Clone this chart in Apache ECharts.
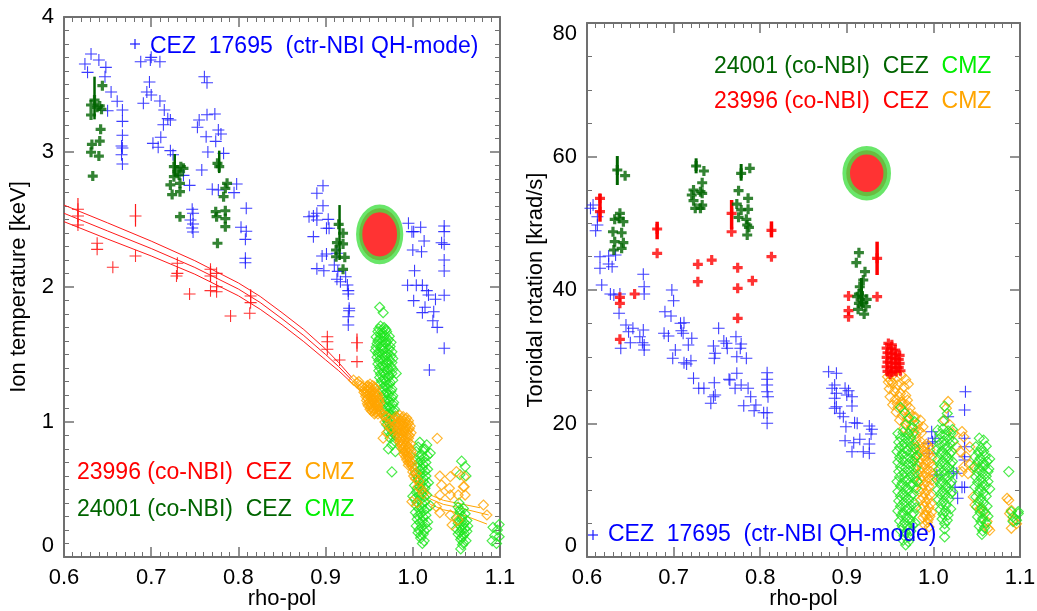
<!DOCTYPE html>
<html><head><meta charset="utf-8">
<script src="https://cdn.jsdelivr.net/npm/echarts@6/dist/echarts.min.js"></script>
<style>html,body{margin:0;padding:0;background:#fff}#c{width:1037px;height:611px}</style>
</head><body><div id="c"></div>
<script>
// ---------- tick labels ----------
const xTickLabels = ['0.6','0.7','0.8','0.9','1.0','1.1'];
const yTickLabelsT = ['0','1','2','3','4'];
const yTickLabelsV = ['0','20','40','60','80'];

// ---------- LEFT: ion temperature [keV] vs rho-pol ----------
const blueCEZ_T = [[0.631,3.726],[0.624,3.652],[0.640,3.681],[0.627,3.590],[0.648,3.627],[0.647,3.558],[0.688,3.669],[0.699,3.681],[0.700,3.701],[0.710,3.669],[0.698,3.519],[0.695,3.444],[0.700,3.422],[0.691,3.361],[0.710,3.378],[0.715,3.311],[0.719,3.247],[0.722,3.237],[0.714,3.202],[0.711,3.109],[0.702,3.064],[0.708,3.035],[0.722,3.010],[0.725,2.980],[0.654,3.444],[0.661,3.376],[0.650,3.306],[0.667,3.311],[0.667,3.227],[0.667,3.124],[0.666,3.044],[0.667,3.030],[0.666,2.980],[0.667,2.911],[0.761,3.558],[0.764,3.513],[0.755,3.237],[0.753,3.183],[0.764,3.276],[0.773,3.281],[0.777,3.163],[0.780,3.133],[0.763,3.113],[0.774,3.079],[0.765,3.000],[0.783,2.990],[0.758,2.867],[0.737,2.827],[0.744,2.753],[0.770,2.724],[0.777,2.719],[0.798,2.763],[0.795,2.699],[0.747,2.576],[0.748,2.546],[0.745,2.496],[0.748,2.467],[0.747,2.437],[0.748,2.407],[0.809,2.583],[0.803,2.442],[0.809,2.413],[0.808,2.353],[0.808,2.213],[0.808,2.180],[0.886,2.373],
[0.897,2.750],[0.890,2.694],[0.897,2.602],[0.881,2.521],[0.886,2.526],[0.890,2.546],[0.890,2.496],[0.901,2.435],[0.904,2.435],[0.903,2.501],[0.896,2.230],[0.901,2.244],[0.913,2.250],[0.890,2.136],[0.898,2.121],[0.910,2.163],[0.914,2.116],[0.913,2.057],[0.917,2.039],[0.923,2.076],[0.925,2.015],[0.926,1.973],[0.926,1.948],[0.927,1.842],[0.927,1.824],[0.926,1.780],[0.926,1.719],
[0.995,2.472],[0.999,2.410],[1.001,2.410],[1.009,2.442],[1.013,2.341],[1.000,2.274],[1.010,2.261],[1.002,2.121],[0.994,2.013],[1.004,2.013],[1.011,2.013],[1.016,1.973],[1.018,1.941],[1.026,1.909],[1.001,1.899],[1.036,1.939],[1.014,1.850],[1.011,1.810],[1.024,1.817],[1.023,1.750],[1.028,1.701],[1.036,1.546],[1.019,1.385],[1.036,2.452],[1.036,2.410],[1.033,2.328],[1.036,2.316],[1.036,2.200],[1.036,2.119]];

const redCEZ_T = [[0.616,2.576],[0.616,2.526],[0.616,2.459],[0.682,2.526],[0.638,2.324],[0.638,2.279],[0.682,2.230],[0.656,2.146],[0.730,2.176],[0.730,2.101],[0.729,2.081],[0.744,1.948],[0.768,2.131],[0.768,2.081],[0.775,2.101],[0.768,1.973],[0.775,1.965],[0.775,2.002],[0.791,1.785],[0.814,1.933],[0.814,1.884],[0.813,1.805],[0.902,1.632],[0.902,1.595],[0.902,1.539],[0.916,1.459],[0.936,1.587],[0.936,1.447]];
const redCEZ_T_err = [[0.616,2.437,2.659],[0.682,2.447,2.615],[0.768,2.039,2.156],[0.814,1.879,1.983],[0.936,1.520,1.656]];

const dgreenCEZ_T = [[0.644,3.491],[0.631,3.348],[0.635,3.385],[0.638,3.331],[0.643,3.316],[0.641,3.341],[0.631,3.274],[0.642,3.168],[0.641,3.081],[0.632,3.056],[0.631,2.998],[0.640,2.970],[0.633,2.822],
[0.726,2.891],[0.734,2.891],[0.730,2.854],[0.737,2.879],[0.726,2.817],[0.732,2.830],[0.722,2.756],[0.733,2.768],[0.724,2.685],[0.733,2.706],[0.733,2.521],
[0.776,2.916],[0.778,2.891],[0.787,2.768],[0.785,2.731],[0.783,2.669],[0.774,2.558],[0.785,2.565],[0.775,2.521],[0.785,2.507],[0.785,2.447],[0.776,2.324],
[0.915,2.464],[0.920,2.398],[0.920,2.319],[0.913,2.328],[0.912,2.274],[0.912,2.224],[0.922,2.220],[0.920,2.131]];
const dgreenCEZ_T_err = [[0.635,3.242,3.558],[0.727,2.817,2.985],[0.778,2.844,3.010],[0.916,2.200,2.607]];

// fit (23996): red part and orange (CMZ) continuation, upper / middle / lower curves
const fitRedUp  = [[0.6,2.607],[0.65,2.475],[0.7,2.34],[0.75,2.195],[0.8,2.03],[0.825,1.93],[0.85,1.81],[0.875,1.685],[0.9,1.54],[0.915,1.44],[0.93,1.33]];
const fitRedMid = [[0.6,2.546],[0.65,2.415],[0.7,2.285],[0.75,2.145],[0.8,1.985],[0.825,1.885],[0.85,1.765],[0.875,1.64],[0.9,1.50],[0.915,1.41],[0.93,1.31]];
const fitRedLo  = [[0.6,2.484],[0.65,2.355],[0.7,2.23],[0.75,2.095],[0.8,1.935],[0.825,1.835],[0.85,1.72],[0.875,1.595],[0.9,1.46],[0.915,1.38],[0.93,1.29]];
const fitOrUp  = [[0.93,1.33],[0.95,1.20],[0.97,1.01],[0.99,0.78],[1.005,0.59],[1.02,0.46],[1.035,0.42],[1.05,0.40],[1.077,0.365]];
const fitOrMid = [[0.93,1.31],[0.95,1.18],[0.97,0.99],[0.99,0.76],[1.005,0.56],[1.02,0.43],[1.035,0.39],[1.05,0.37],[1.087,0.311]];
const fitOrLo  = [[0.93,1.29],[0.95,1.16],[0.97,0.97],[0.99,0.74],[1.005,0.53],[1.02,0.39],[1.035,0.35],[1.05,0.33],[1.085,0.244]];

const orangeCMZ_T = [[0.932,1.31],[0.936,1.29],[0.940,1.27],[0.938,1.30],[0.942,1.26],
[0.945,1.25],[0.948,1.27],[0.951,1.28],[0.954,1.27],[0.957,1.25],[0.944,1.22],[0.947,1.23],[0.950,1.24],[0.953,1.23],[0.956,1.22],[0.959,1.21],[0.946,1.19],[0.949,1.20],[0.952,1.19],[0.955,1.18],[0.958,1.18],[0.961,1.17],[0.947,1.16],[0.950,1.15],[0.953,1.16],[0.956,1.14],[0.959,1.13],[0.962,1.14],[0.949,1.12],[0.952,1.11],[0.955,1.10],[0.958,1.10],[0.961,1.09],[0.953,1.08],[0.957,1.07],[0.960,1.06],[0.964,1.07],[0.950,1.26],[0.955,1.20],[0.951,1.13],
[0.947,1.26],[0.952,1.255],[0.956,1.26],[0.946,1.21],[0.951,1.215],[0.955,1.21],[0.960,1.195],[0.948,1.175],[0.953,1.17],[0.957,1.165],[0.961,1.155],[0.948,1.135],[0.953,1.13],[0.957,1.125],[0.960,1.115],[0.951,1.095],[0.955,1.085],[0.959,1.08],[0.962,1.075],[0.956,1.06],
[0.966,1.05],[0.970,1.04],[0.974,1.02],[0.968,1.00],[0.972,0.98],[0.970,0.92],[0.966,0.88],[0.975,0.95],
[0.981,1.04],[0.985,1.05],[0.989,1.04],[0.993,1.03],[0.979,1.01],[0.983,1.00],[0.987,1.01],[0.991,1.00],[0.995,0.99],[0.980,0.97],[0.984,0.96],[0.988,0.97],[0.992,0.96],[0.996,0.95],[0.982,0.93],[0.986,0.92],[0.990,0.93],[0.994,0.91],[0.998,0.92],[0.983,0.89],[0.987,0.88],[0.991,0.87],[0.995,0.88],[0.985,0.85],[0.989,0.84],[0.993,0.83],[0.997,0.84],[0.988,0.80],[0.992,0.79],[0.996,0.80],[0.990,0.76],[0.994,0.75],[0.998,0.76],[0.993,0.72],[0.997,0.71],[0.995,0.68],[0.999,0.67],
[0.983,1.025],[0.987,1.025],[0.991,1.02],[0.995,1.01],[0.981,0.985],[0.985,0.98],[0.989,0.985],[0.993,0.98],[0.997,0.97],[0.982,0.945],[0.986,0.94],[0.990,0.945],[0.994,0.935],[0.984,0.905],[0.988,0.90],[0.992,0.905],[0.996,0.90],[0.986,0.865],[0.990,0.86],[0.994,0.855],[0.987,0.825],[0.991,0.82],[0.995,0.815],[0.990,0.78],[0.994,0.775],[0.998,0.78],[0.992,0.74],[0.996,0.735],[0.995,0.70],[0.999,0.695],
[1.000,0.63],[1.004,0.62],[1.003,0.58],[1.007,0.56],[1.006,0.52],[1.010,0.50],[1.012,0.47],[1.001,0.60],
[1.028,0.879],[1.031,0.60],[1.043,0.595],[1.033,0.533],[1.042,0.509],[1.050,0.632],[1.059,0.595],[1.059,0.521],[1.052,0.459],[1.043,0.459],[1.031,0.459],[0.999,0.41],[1.005,0.402],[1.031,0.328],[1.043,0.311],[1.027,0.373],[1.052,0.274],[1.081,0.385],[1.085,0.311],[1.045,0.237],[1.058,0.521],[1.060,0.459]];

const greenCMZ_T = [[0.962,1.85],[0.966,1.81],
[0.963,1.71],[0.967,1.70],[0.960,1.67],[0.965,1.66],[0.970,1.67],[0.958,1.63],[0.962,1.62],[0.967,1.63],[0.972,1.61],[0.959,1.58],[0.964,1.57],[0.969,1.58],[0.974,1.56],[0.957,1.53],[0.961,1.52],[0.966,1.53],[0.971,1.51],[0.976,1.52],[0.959,1.48],[0.963,1.47],[0.968,1.48],[0.973,1.46],[0.977,1.47],[0.960,1.43],[0.965,1.42],[0.970,1.43],[0.975,1.41],[0.961,1.38],[0.966,1.37],[0.971,1.38],[0.976,1.36],[0.962,1.33],[0.967,1.32],[0.972,1.33],[0.977,1.31],[0.963,1.28],[0.968,1.27],[0.973,1.28],[0.965,1.23],[0.970,1.22],[0.975,1.23],[0.966,1.18],[0.971,1.17],[0.976,1.18],[0.967,1.13],[0.972,1.12],[0.977,1.13],[0.968,1.08],[0.973,1.07],[0.978,1.08],[0.969,1.03],[0.974,1.02],[0.979,1.03],[0.970,0.98],[0.975,0.97],[0.972,0.93],[0.977,0.92],[0.974,0.88],[0.979,0.86],[0.976,0.83],[0.981,1.36],[0.976,0.63],[0.972,0.80],[0.980,0.78],
[0.961,1.69],[0.965,1.68],[0.969,1.685],[0.963,1.645],[0.968,1.64],[0.973,1.635],[0.960,1.60],[0.965,1.60],[0.970,1.595],[0.975,1.59],[0.958,1.555],[0.963,1.55],[0.968,1.545],[0.973,1.54],[0.960,1.505],[0.965,1.50],[0.970,1.495],[0.975,1.49],[0.961,1.455],[0.966,1.45],[0.971,1.445],[0.976,1.44],[0.962,1.405],[0.967,1.40],[0.972,1.395],[0.977,1.39],[0.963,1.355],[0.968,1.35],[0.973,1.345],[0.964,1.305],[0.969,1.30],[0.974,1.295],[0.966,1.255],[0.971,1.25],[0.976,1.245],[0.967,1.205],[0.972,1.20],[0.977,1.195],[0.968,1.155],[0.973,1.15],[0.978,1.145],[0.969,1.105],[0.974,1.10],[0.979,1.095],[0.970,1.055],[0.975,1.05],[0.980,1.045],[0.971,1.005],[0.976,1.00],[0.973,0.955],[0.978,0.95],[0.975,0.905],[0.980,0.90],
[1.008,0.85],[1.016,0.83],[1.012,0.80],[1.004,0.78],[1.010,0.76],[1.017,0.75],[1.003,0.72],[1.009,0.71],[1.015,0.70],[1.005,0.67],[1.011,0.66],[1.017,0.65],[1.003,0.62],[1.009,0.61],[1.015,0.60],[1.006,0.57],[1.012,0.56],[1.018,0.55],[1.002,0.53],[1.008,0.52],[1.014,0.51],[1.004,0.48],[1.010,0.47],[1.016,0.46],[1.002,0.43],[1.008,0.42],[1.014,0.41],[1.004,0.38],[1.010,0.37],[1.016,0.36],[1.003,0.33],[1.009,0.32],[1.015,0.31],[1.005,0.28],[1.011,0.27],[1.017,0.26],[1.004,0.23],[1.010,0.22],[1.016,0.21],[1.006,0.18],[1.012,0.17],[1.009,0.14],[1.013,0.12],[1.020,0.38],[1.000,0.45],[1.020,0.77],
[1.006,0.815],[1.014,0.80],[1.007,0.745],[1.013,0.735],[1.006,0.695],[1.012,0.685],[1.008,0.645],[1.014,0.635],[1.006,0.59],[1.012,0.585],[1.009,0.545],[1.015,0.535],[1.005,0.505],[1.011,0.495],[1.007,0.455],[1.013,0.445],[1.005,0.405],[1.011,0.395],[1.007,0.355],[1.013,0.345],[1.006,0.305],[1.012,0.295],[1.008,0.255],[1.014,0.245],[1.007,0.20],[1.013,0.195],[1.009,0.16],[1.011,0.10],
[1.056,0.71],[1.060,0.67],[1.054,0.61],[1.061,0.60],[1.052,0.37],[1.058,0.36],[1.054,0.33],[1.060,0.32],[1.050,0.29],[1.056,0.28],[1.062,0.27],[1.052,0.25],[1.058,0.24],[1.063,0.23],[1.050,0.21],[1.056,0.20],[1.062,0.19],[1.052,0.17],[1.058,0.16],[1.055,0.13],[1.061,0.12],[1.057,0.09],[1.055,0.06],[1.053,0.40],
[1.054,0.35],[1.057,0.30],[1.053,0.27],[1.059,0.255],[1.055,0.225],[1.060,0.21],[1.054,0.185],[1.059,0.175],[1.056,0.145],[1.058,0.105],
[1.092,0.22],[1.097,0.20],[1.094,0.16],[1.099,0.15],[1.091,0.12],[1.096,0.10],[1.099,0.24]];

const ellipseT = [[0.962,2.39]];

// ---------- RIGHT: toroidal rotation [krad/s] vs rho-pol ----------
const blueCEZ_V = [[0.604,52.24],[0.607,52.73],[0.612,50.98],[0.612,49.74],[0.610,48.88],[0.615,44.99],[0.625,45.09],[0.615,43.25],[0.625,43.90],[0.629,43.49],[0.633,45.24],[0.617,40.75],[0.627,39.40],[0.631,39.25],[0.638,39.40],[0.637,36.51],[0.645,34.76],[0.648,33.75],[0.653,34.26],[0.650,32.10],[0.639,31.27],[0.661,33.00],[0.664,32.10],[0.665,34.01],[0.666,31.76],[0.666,31.01],[0.665,42.35],[0.666,40.49],[0.666,39.40],[0.698,40.00],[0.700,38.40],[0.690,36.75],[0.697,36.10],[0.689,33.51],[0.694,33.11],[0.708,35.01],[0.712,35.10],[0.709,33.90],[0.711,33.51],[0.721,32.76],[0.717,31.76],[0.702,31.01],[0.699,29.77],[0.712,29.11],[0.715,28.91],[0.720,29.41],[0.723,26.77],[0.729,25.27],[0.735,25.27],[0.747,26.11],[0.746,24.01],[0.748,24.27],[0.743,23.03],[0.752,34.26],[0.746,31.61],[0.748,30.52],[0.747,29.77],[0.758,32.36],[0.761,32.01],[0.762,31.27],[0.772,33.00],[0.778,31.91],[0.777,31.27],[0.773,30.01],[0.784,29.77],[0.764,26.62],[0.765,26.52],[0.773,27.52],[0.778,25.77],[0.771,25.27],[0.786,25.27],[0.789,24.01],[0.781,22.67],[0.795,22.77],[0.793,21.92],[0.804,21.62],[0.808,21.62],[0.808,27.61],[0.808,26.62],[0.808,25.77],[0.808,24.76],[0.809,24.01],[0.808,20.03],
[0.879,27.76],[0.888,27.52],[0.886,25.77],[0.883,25.27],[0.888,24.52],[0.898,25.27],[0.902,24.91],[0.900,24.27],[0.906,24.01],[0.886,23.78],[0.888,22.52],[0.886,22.28],[0.906,22.62],[0.892,21.53],[0.896,21.02],[0.899,19.52],[0.909,20.12],[0.912,20.03],[0.926,19.63],[0.929,19.13],[0.898,17.42],[0.908,17.12],[0.915,17.63],[0.906,15.78],[0.919,15.78],[0.926,16.93],[0.926,15.54],[0.928,18.43],
[0.998,18.77],[1.002,17.78],[0.994,17.03],[0.999,17.27],[0.995,15.54],[1.004,12.28],[1.017,21.02],[1.023,12.78],[1.027,12.54],[1.025,10.44],[1.033,10.44],[1.036,10.44],[1.028,8.79],[1.037,24.76],[1.036,22.02],[1.036,17.78],[1.036,16.52],[1.036,15.03],[1.036,14.53]];

const redCEZ_V = [[0.615,53.74],[0.615,51.74],[0.681,49.14],[0.681,45.50],[0.767,51.49],[0.767,48.73],[0.813,48.94],[0.813,44.99],[0.728,43.85],[0.744,44.49],[0.728,41.24],[0.774,43.34],[0.774,40.25],[0.791,41.39],[0.774,35.76],[0.638,38.91],[0.638,38.01],[0.655,39.40],[0.638,32.61],[0.935,44.75],[0.902,39.10],[0.935,39.00],[0.902,36.90],[0.902,36.00],
[0.948,32.0],[0.952,31.8],[0.946,31.3],[0.951,31.2],[0.956,31.0],[0.947,30.6],[0.952,30.5],[0.957,30.4],[0.961,30.2],[0.946,29.9],[0.951,29.8],[0.956,29.7],[0.960,29.6],[0.947,29.2],[0.952,29.1],[0.957,29.0],[0.961,29.0],[0.946,28.5],[0.951,28.4],[0.956,28.3],[0.960,28.4],[0.947,27.8],[0.952,27.7],[0.957,27.8],[0.962,27.9],[0.950,27.4]];
const redCEZ_V_err = [[0.615,50.23,54.38],[0.681,47.60,50.23],[0.767,49.09,53.48],[0.813,47.88,50.28],[0.935,42.25,47.24]];

const dgreenCEZ_V = [[0.635,57.98],[0.644,57.12],[0.638,51.49],[0.632,50.59],[0.637,50.74],[0.642,50.23],[0.630,48.73],[0.640,48.58],[0.632,47.24],[0.642,47.09],[0.631,45.99],[0.640,46.25],
[0.726,58.58],[0.735,57.83],[0.733,56.07],[0.723,54.98],[0.731,54.73],[0.721,54.23],[0.733,54.49],[0.723,53.38],[0.733,52.73],[0.725,52.24],[0.731,52.24],
[0.778,57.48],[0.788,58.23],[0.775,54.88],[0.786,53.74],[0.773,52.88],[0.778,51.99],[0.786,52.09],[0.775,50.89],[0.784,50.59],[0.785,49.74],[0.787,49.39],[0.785,48.24],
[0.914,45.59],[0.911,44.09],[0.921,42.74],[0.919,41.50],[0.915,40.49],[0.914,39.40],[0.912,39.00],[0.918,39.10],[0.923,38.61],[0.914,38.01],[0.919,38.10],[0.913,37.11],[0.922,37.50],[0.920,36.40]];
const dgreenCEZ_V_err = [[0.635,55.73,60.07],[0.726,57.48,59.73],[0.778,56.37,58.88],[0.917,37.50,41.80]];

const orangeCMZ_V = [[0.947,27.0],[0.952,27.1],[0.958,26.9],[0.963,27.2],[0.968,26.6],[0.948,26.2],[0.953,26.0],[0.959,25.8],[0.966,25.5],[0.971,25.9],[0.949,25.2],[0.955,24.8],[0.962,24.5],[0.968,24.2],[0.950,24.0],[0.956,23.6],[0.963,23.2],[0.970,23.5],[0.953,22.8],[0.959,22.4],[0.966,22.0],[0.973,22.3],[0.957,21.7],[0.964,21.2],[0.970,20.8],[0.977,21.0],[0.961,20.5],[0.968,20.0],[0.975,19.6],[0.982,19.9],[0.966,19.3],[0.973,18.8],[0.980,18.4],[0.986,18.6],[0.979,21.0],[0.985,20.5],[0.983,19.0],[0.988,19.5],
[0.950,26.5],[0.956,25.3],[0.961,24.0],[0.965,23.0],[0.969,22.8],[0.973,21.5],[0.958,23.0],
[0.980,17.5],[0.986,17.2],[0.992,16.9],[0.978,16.3],[0.984,16.0],[0.990,15.8],[0.996,16.1],[0.980,15.0],[0.986,14.7],[0.992,14.5],[0.998,14.8],[0.981,13.7],[0.987,13.4],[0.993,13.2],[0.999,13.5],[0.982,12.4],[0.988,12.1],[0.994,11.9],[1.000,12.2],[0.983,11.1],[0.989,10.8],[0.995,10.6],[0.984,9.8],[0.990,9.5],[0.996,9.3],[0.985,8.5],[0.991,8.2],[0.997,8.0],[0.986,7.2],[0.992,6.9],[0.998,6.7],[0.988,5.9],[0.994,5.6],[0.990,4.8],[0.995,4.5],[0.992,6.2],
[0.983,16.8],[0.989,16.5],[0.995,16.6],[0.983,15.4],[0.989,15.2],[0.995,15.4],[0.984,14.1],[0.990,13.9],[0.996,14.1],[0.985,12.8],[0.991,12.6],[0.997,12.8],[0.986,11.5],[0.992,11.3],[0.998,11.5],[0.987,10.2],[0.993,10.0],[0.988,8.9],[0.994,8.7],[0.989,7.6],[0.995,7.4],[0.990,6.3],[0.996,6.1],[0.993,5.2],
[1.017,23.3],[1.015,22.3],[1.013,20.5],[1.019,19.8],[1.023,18.5],[1.033,18.8],[1.035,18.0],[1.027,16.5],[1.031,15.8],[1.038,15.0],[1.042,16.5],[1.033,12.8],[1.035,13.5],[1.042,13.8],[1.040,12.5],[1.048,13.5],[1.046,9.0],[1.048,7.8],[1.054,7.3],[1.058,6.8],[1.062,5.3],[1.065,4.0],[1.063,4.3],[1.087,8.5],[1.088,6.5],[1.092,5.5],[1.090,4.3],[1.096,5.0],[1.085,8.8],[1.090,7.0]];

const greenCMZ_V = [[0.962,22.4],[0.967,21.6],[0.972,20.8],[0.978,20.3],[0.968,19.8],[0.976,19.4],
[0.959,18.5],[0.965,18.7],[0.971,18.4],[0.977,18.6],[0.960,17.2],[0.966,17.0],[0.972,17.3],[0.978,16.9],[0.958,15.8],[0.964,15.5],[0.970,15.9],[0.976,15.6],[0.981,15.2],[0.959,14.2],[0.965,14.4],[0.971,14.0],[0.977,14.3],[0.960,12.8],[0.966,12.6],[0.972,12.9],[0.978,12.5],[0.958,11.3],[0.964,11.1],[0.970,11.4],[0.976,11.0],[0.981,11.3],[0.959,9.8],[0.965,9.6],[0.971,9.9],[0.977,9.5],[0.960,8.4],[0.966,8.2],[0.972,8.5],[0.978,8.1],[0.959,6.9],[0.965,6.7],[0.971,7.0],[0.977,6.6],[0.961,5.4],[0.967,5.2],[0.973,5.5],[0.979,5.1],[0.962,4.0],[0.968,3.7],[0.974,3.9],[0.965,2.5],[0.971,2.3],[0.968,1.8],
[0.962,17.9],[0.968,17.8],[0.974,17.9],[0.961,16.4],[0.967,16.3],[0.973,16.5],[0.979,16.2],[0.961,14.9],[0.967,15.0],[0.973,14.8],[0.979,14.9],[0.962,13.5],[0.968,13.4],[0.974,13.6],[0.980,13.3],[0.961,12.0],[0.967,11.9],[0.973,12.1],[0.979,11.8],[0.962,10.6],[0.968,10.5],[0.974,10.7],[0.980,10.3],[0.962,9.1],[0.968,9.0],[0.974,9.2],[0.962,7.6],[0.968,7.5],[0.974,7.7],[0.980,7.4],[0.963,6.2],[0.969,6.0],[0.975,6.3],[0.964,4.7],[0.970,4.6],[0.976,4.8],[0.966,3.2],[0.972,3.0],
[1.013,22.6],[1.016,21.5],[1.011,20.4],[1.005,19.0],[1.011,19.2],[1.017,18.9],[1.022,19.1],[1.006,17.6],[1.012,17.4],[1.018,17.7],[1.023,17.3],[1.004,16.1],[1.010,15.9],[1.016,16.2],[1.021,15.8],[1.005,14.6],[1.011,14.4],[1.017,14.7],[1.022,14.3],[1.006,13.1],[1.012,12.9],[1.018,13.2],[1.023,12.8],[1.004,11.6],[1.010,11.4],[1.016,11.7],[1.021,11.3],[1.005,10.1],[1.011,9.9],[1.017,10.2],[1.022,9.8],[1.006,8.6],[1.012,8.4],[1.018,8.7],[1.008,7.1],[1.014,6.9],[1.020,7.2],[1.010,5.7],[1.016,5.5],[1.013,4.2],[1.013,3.0],
[1.008,18.4],[1.014,18.3],[1.020,18.5],[1.007,16.9],[1.013,16.8],[1.019,17.0],[1.008,15.4],[1.014,15.3],[1.019,15.5],[1.008,13.9],[1.014,13.8],[1.020,14.0],[1.007,12.4],[1.013,12.3],[1.019,12.5],[1.008,10.9],[1.014,10.8],[1.019,11.0],[1.008,9.4],[1.014,9.3],[1.020,9.5],[1.009,7.9],[1.015,7.8],[1.011,6.4],[1.017,6.3],[1.013,5.0],
[1.053,17.8],[1.058,17.5],[1.049,16.5],[1.055,16.3],[1.061,16.6],[1.048,15.0],[1.054,14.8],[1.060,15.1],[1.065,14.7],[1.047,13.5],[1.053,13.3],[1.059,13.6],[1.064,13.2],[1.049,12.0],[1.055,11.8],[1.061,12.1],[1.048,10.5],[1.054,10.3],[1.060,10.6],[1.065,10.2],[1.049,9.0],[1.055,8.8],[1.061,9.1],[1.050,7.5],[1.056,7.3],[1.062,7.6],[1.051,6.0],[1.057,5.8],[1.063,6.1],[1.053,4.6],[1.059,4.4],[1.056,3.4],
[1.052,15.7],[1.058,15.8],[1.051,14.2],[1.057,14.1],[1.062,14.3],[1.051,12.7],[1.057,12.6],[1.063,12.8],[1.051,11.2],[1.057,11.1],[1.063,11.3],[1.052,9.7],[1.058,9.6],[1.052,8.2],[1.058,8.1],[1.054,6.7],[1.060,6.6],[1.055,5.3],[1.061,5.1],[1.057,3.9],
[1.087,12.8],[1.090,6.8],[1.092,6.0],[1.096,5.5],[1.098,6.5],[1.092,5.3],[1.098,6.8]];

const ellipseV = [[0.923,57.5]];

// ---------- styles ----------
const C = {blue:'#1a1aff', red:'#ff1a1a', dgreen:'#006400', green:'#1fe61f', orange:'#ffa500', ring:'#44e044', axis:'#707070'};
const FONT = 'Liberation Sans, Arial, Helvetica, sans-serif';
const thinPlus = 'path://M0,4.55H10V5.45H0Z M4.55,0H5.45V10H4.55Z';
const thickPlus = 'path://M0,3.4H10V6.6H0Z M3.4,0H6.6V10H3.4Z';

function xAx(grid, pos) {
  return {type:'value', gridIndex:grid, position:pos, min:0.6, max:1.1, interval:0.1,
    axisLine:{show:true, onZero:false, lineStyle:{color:C.axis, width:2}},
    axisTick:{show:true, inside:true, length:10, lineStyle:{color:C.axis, width:1.5}},
    minorTick:{show:true, splitNumber:10, length:5, lineStyle:{color:C.axis, width:1}},
    splitLine:{show:false},
    axisLabel:{show:pos==='bottom', margin:10, color:'#000', fontFamily:FONT, fontSize:22,
      formatter:(v)=>xTickLabels[Math.round((v-0.6)*10)]},
    name: pos==='bottom' ? 'rho-pol' : '', nameLocation:'middle', nameGap:31, nameMoveOverlap:false,
    nameTextStyle:{color:'#000', fontFamily:FONT, fontSize:22}};
}
function yAx(grid, pos, max, interval, minor, labels, name, gap, maxAlign) {
  return {type:'value', gridIndex:grid, position:pos, min:0, max:max, interval:interval,
    axisLine:{show:true, onZero:false, lineStyle:{color:C.axis, width:2}},
    axisTick:{show:true, inside:true, length:10, lineStyle:{color:C.axis, width:1.5}},
    minorTick:{show:true, splitNumber:minor, length:5, lineStyle:{color:C.axis, width:1}},
    splitLine:{show:false},
    axisLabel:{show:pos==='left', margin:10, color:'#000', fontFamily:FONT, fontSize:22,
      verticalAlignMinLabel:'bottom', verticalAlignMaxLabel:maxAlign||'middle',
      formatter:(v)=>labels[Math.round(v/interval)]},
    name: pos==='left' ? name : '', nameLocation:'middle', nameGap:gap, nameRotate:90, nameMoveOverlap:false,
    nameTextStyle:{color:'#000', fontFamily:FONT, fontSize:22}};
}
function scat(data, xi, yi, symbol, size, style, z) {
  return {type:'scatter', xAxisIndex:xi, yAxisIndex:yi, data, symbol, symbolSize:size,
    itemStyle:style, silent:true, z:z||2, animation:false, large:false};
}
function errBars(data, xi, yi, color, width, z) {
  return {type:'custom', xAxisIndex:xi, yAxisIndex:yi, data, silent:true, z:z||3, animation:false,
    encode:{x:0, y:[1,2]},
    renderItem:(params, api)=>{
      const a = api.coord([api.value(0), api.value(1)]);
      const b = api.coord([api.value(0), api.value(2)]);
      return {type:'line', shape:{x1:a[0], y1:a[1], x2:b[0], y2:b[1]}, style:{stroke:color, lineWidth:width}};
    }};
}
function fitLine(data, color) {
  return {type:'line', xAxisIndex:0, yAxisIndex:0, data, showSymbol:false, symbol:'none', smooth:false,
    lineStyle:{color, width:1}, silent:true, z:2, animation:false};
}
const hollow = (c)=>({color:'rgba(0,0,0,0)', borderColor:c, borderWidth:1.2});

const series = [
  // left panel
  scat(blueCEZ_T, 0, 0, thinPlus, 12, {color:C.blue, opacity:0.85}),
  fitLine(fitRedUp, C.red), fitLine(fitRedMid, C.red), fitLine(fitRedLo, C.red),
  fitLine(fitOrUp, C.orange), fitLine(fitOrMid, C.orange), fitLine(fitOrLo, C.orange),
  scat(redCEZ_T, 0, 0, thinPlus, 12, {color:C.red, opacity:0.9}),
  errBars(redCEZ_T_err, 0, 0, C.red, 1.2),
  scat(greenCMZ_T, 0, 0, 'diamond', 10, hollow(C.green), 3),
  scat(orangeCMZ_T, 0, 0, 'diamond', 10, hollow(C.orange), 4),
  scat(dgreenCEZ_T, 0, 0, thickPlus, 10, {color:C.dgreen}, 5),
  errBars(dgreenCEZ_T_err, 0, 0, C.dgreen, 2.5, 5),
  scat(ellipseT, 0, 0, 'circle', [41,52], {color:'#ff0000', borderColor:C.ring, borderWidth:7}, 6),
  // right panel
  scat(blueCEZ_V, 2, 2, thinPlus, 12, {color:C.blue, opacity:0.85}),
  scat(orangeCMZ_V, 2, 2, 'diamond', 10, hollow(C.orange), 3),
  scat(greenCMZ_V, 2, 2, 'diamond', 10, hollow(C.green), 4),
  scat(redCEZ_V, 2, 2, thickPlus, 10, {color:'#ff0000'}, 5),
  errBars(redCEZ_V_err, 2, 2, '#ff0000', 3.5, 5),
  scat(dgreenCEZ_V, 2, 2, thickPlus, 10, {color:C.dgreen}, 5),
  errBars(dgreenCEZ_V_err, 2, 2, C.dgreen, 3, 5),
  scat(ellipseV, 2, 2, 'circle', [41,46], {color:'#ff0000', borderColor:C.ring, borderWidth:8}, 6)
];

function txt(x, y, rich, str) {
  return {type:'text', x, y, silent:true, z:100,
    style:{text:str, rich, font:'23px '+FONT, verticalAlign:'middle', align:'left'}};
}
const R = (c)=>({fill:c, fontSize:23, fontFamily:FONT});
function plusMark(x, y) {
  return {type:'group', x, y, silent:true, z:100, children:[
    {type:'line', shape:{x1:-5, y1:0, x2:5, y2:0}, style:{stroke:C.blue, lineWidth:1.2}},
    {type:'line', shape:{x1:0, y1:-5, x2:0, y2:5}, style:{stroke:C.blue, lineWidth:1.2}}]};
}

const option = {
  backgroundColor:'#fff', animation:false,
  grid:[{left:64, top:17, width:436, height:540, outerBoundsMode:'none', containLabel:false},
        {left:587, top:23, width:433, height:534, outerBoundsMode:'none', containLabel:false}],
  xAxis:[xAx(0,'bottom'), xAx(0,'top'), xAx(1,'bottom'), xAx(1,'top')],
  yAxis:[yAx(0,'left',4,1,10,yTickLabelsT,'Ion temperature [keV]',34), yAx(0,'right',4,1,10,yTickLabelsT,'',0),
         yAx(1,'left',80,20,4,yTickLabelsV,'Toroidal rotation [krad/s]',40,'top'), yAx(1,'right',80,20,4,yTickLabelsV,'',0)],
  series,
  graphic:[
    plusMark(135,44),
    txt(150, 47, {b:R('#0000ff')}, '{b|CEZ  17695  (ctr-NBI QH-mode)}'),
    txt(77, 473, {r:R('#ff0000'), o:R('#ffa500')}, '{r|23996 (co-NBI)  CEZ}  {o|CMZ}'),
    txt(77, 510, {d:R('#006400'), g:R('#00ee00')}, '{d|24001 (co-NBI)  CEZ}  {g|CMZ}'),
    plusMark(593,535),
    txt(608, 535, {b:R('#0000ff')}, '{b|CEZ  17695  (ctr-NBI QH-mode)}'),
    txt(714, 67, {d:R('#006400'), g:R('#00ee00')}, '{d|24001 (co-NBI)  CEZ}  {g|CMZ}'),
    txt(714, 102, {r:R('#ff0000'), o:R('#ffa500')}, '{r|23996 (co-NBI)  CEZ}  {o|CMZ}')
  ]
};
const chart = echarts.init(document.getElementById('c'), null, {renderer:'canvas'});
chart.setOption(option);
</script></body></html>
